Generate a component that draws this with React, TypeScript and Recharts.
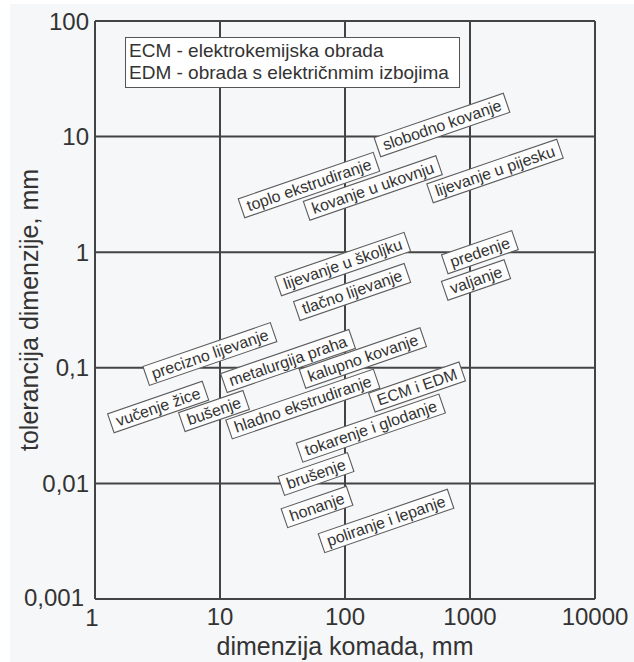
import React from 'react';
import { ScatterChart, Scatter, XAxis, YAxis, CartesianGrid } from 'recharts';

// ---- data ----
const xTicks = [1, 10, 100, 1000, 10000];
const xTickLabels = ['1', '10', '100', '1000', '10000'];
const yTicks = [0.001, 0.01, 0.1, 1, 10, 100];
const yTickLabels = ['0,001', '0,01', '0,1', '1', '10', '100'];

const processNames = [
  'slobodno kovanje',
  'toplo ekstrudiranje',
  'kovanje u ukovnju',
  'lijevanje u pijesku',
  'lijevanje u školjku',
  'tlačno lijevanje',
  'predenje',
  'valjanje',
  'precizno lijevanje',
  'metalurgija praha',
  'kalupno kovanje',
  'vučenje žice',
  'bušenje',
  'hladno ekstrudiranje',
  'ECM i EDM',
  'tokarenje i glodanje',
  'brušenje',
  'honanje',
  'poliranje i lepanje',
];
// dimenzija komada, mm (label centre)
const dimensionValues = [597, 51.5, 167, 1585, 96, 114, 1200, 1117, 8.3, 35, 139, 3.2, 8.95, 46, 377, 161, 58.6, 59.7, 213];
// tolerancija dimenzije, mm (label centre)
const toleranceValues = [12.6, 3.81, 3.59, 5.04, 0.79, 0.453, 1.0, 0.575, 0.1316, 0.1145, 0.1216, 0.0458, 0.0423, 0.0486, 0.0682, 0.0301, 0.01206, 0.00625, 0.00473];

const legendLines = ['ECM - elektrokemijska obrada', 'EDM - obrada s električnmim izbojima'];
const xAxisTitle = 'dimenzija komada, mm';
const yAxisTitle = 'tolerancija dimenzije, mm';

const points = processNames.map((name, i) => ({
  name,
  x: dimensionValues[i],
  y: toleranceValues[i],
}));

const FONT = '"Liberation Sans", Arial, Helvetica, sans-serif';
const TEXT = '#333333';
const GRID = '#444444';

let measureCtx: CanvasRenderingContext2D | null = null;
function measure(text: string, font: string): number {
  if (!measureCtx) {
    const c = document.createElement('canvas');
    measureCtx = c.getContext('2d');
  }
  if (!measureCtx) return text.length * 8;
  measureCtx.font = font;
  return measureCtx.measureText(text).width;
}

const LabelBox = (props: any) => {
  const { cx, cy, payload } = props;
  if (cx == null || cy == null || !payload) return <g />;
  const fs = 16;
  const tw = measure(payload.name, `${fs}px "Liberation Sans"`);
  const w = tw + 12;
  const h = 20;
  return (
    <g transform={`translate(${cx},${cy}) rotate(-19)`}>
      <rect x={-w / 2} y={-h / 2} width={w} height={h} fill="#fdfdfd" stroke="#5c5c5c" strokeWidth={1.1} />
      <text x={0} y={5.5} textAnchor="middle" fontSize={fs} fontFamily={FONT} fill={TEXT}>
        {payload.name}
      </text>
    </g>
  );
};

const XTick = (props: any) => {
  const { x, y, payload, index } = props;
  const i = xTicks.indexOf(payload.value);
  const label = i >= 0 ? xTickLabels[i] : String(payload.value);
  const dx = index === 0 ? -3 : 0;
  const dy = index === 0 ? 1 : 0;
  return (
    <text x={x + dx} y={y + 26 + dy} textAnchor="middle" fontSize={24} fontFamily={FONT} fill={TEXT}>
      {label}
    </text>
  );
};

const YTick = (props: any) => {
  const { x, y, payload, index } = props;
  const i = yTicks.indexOf(payload.value);
  const label = i >= 0 ? yTickLabels[i] : String(payload.value);
  const dx = index === 0 ? -5 : 0;
  const dy = index === 0 ? -2 : 0;
  return (
    <text x={x + dx} y={y + 8.5 + dy} textAnchor="end" fontSize={24} fontFamily={FONT} fill={TEXT}>
      {label}
    </text>
  );
};

const YTitle = (props: any) => {
  const vb = props.viewBox || { x: 0, y: 21, width: 95, height: 578 };
  const cy = vb.y + vb.height / 2;
  const x = 38;
  return (
    <text x={x} y={cy} transform={`rotate(-90, ${x}, ${cy})`} textAnchor="middle" fontSize={25} fontFamily={FONT} fill={TEXT}>
      {yAxisTitle}
    </text>
  );
};

const XTitle = (props: any) => {
  const vb = props.viewBox || { x: 95, y: 599, width: 500, height: 63 };
  const cx = vb.x + vb.width / 2;
  return (
    <text x={cx} y={655} textAnchor="middle" fontSize={25} fontFamily={FONT} fill={TEXT}>
      {xAxisTitle}
    </text>
  );
};

export default function App() {
  return (
    <div style={{ position: 'absolute', left: 0, top: 0, width: 634, height: 662, background: '#ffffff', overflow: 'hidden' }}>
      <div style={{ position: 'absolute', left: 10, top: 4, right: 0, bottom: 0, background: '#f6f7f9' }} />
      <div style={{ position: 'absolute', left: 0, top: 0 }}>
        <ScatterChart width={634} height={662} margin={{ top: 21, right: 39, bottom: 0, left: 0 }}>
          <CartesianGrid stroke={GRID} strokeWidth={2} fill="none" />
          <XAxis
            dataKey="x"
            type="number"
            scale="log"
            domain={[1, 10000]}
            ticks={xTicks}
            allowDataOverflow
            height={63}
            axisLine={false}
            tickLine={false}
            tickSize={0}
            tickMargin={0}
            interval={0}
            tick={<XTick />}
            label={<XTitle />}
          />
          <YAxis
            dataKey="y"
            type="number"
            scale="log"
            domain={[0.001, 100]}
            ticks={yTicks}
            allowDataOverflow
            width={95}
            axisLine={false}
            tickLine={false}
            tickSize={0}
            tickMargin={6}
            interval={0}
            tick={<YTick />}
            label={<YTitle />}
          />
          <Scatter data={points} shape={<LabelBox />} isAnimationActive={false} />
        </ScatterChart>
      </div>
      <div
        style={{
          position: 'absolute',
          left: 125,
          top: 37,
          width: 335,
          height: 51,
          boxSizing: 'border-box',
          border: '1.5px solid #555',
          background: '#ffffff',
          fontFamily: FONT,
          fontSize: 19,
          lineHeight: '22px',
          color: TEXT,
          paddingLeft: 3,
          paddingTop: 2,
          whiteSpace: 'nowrap',
        }}
      >
        {legendLines.map((l) => (
          <div key={l}>{l}</div>
        ))}
      </div>
    </div>
  );
}
